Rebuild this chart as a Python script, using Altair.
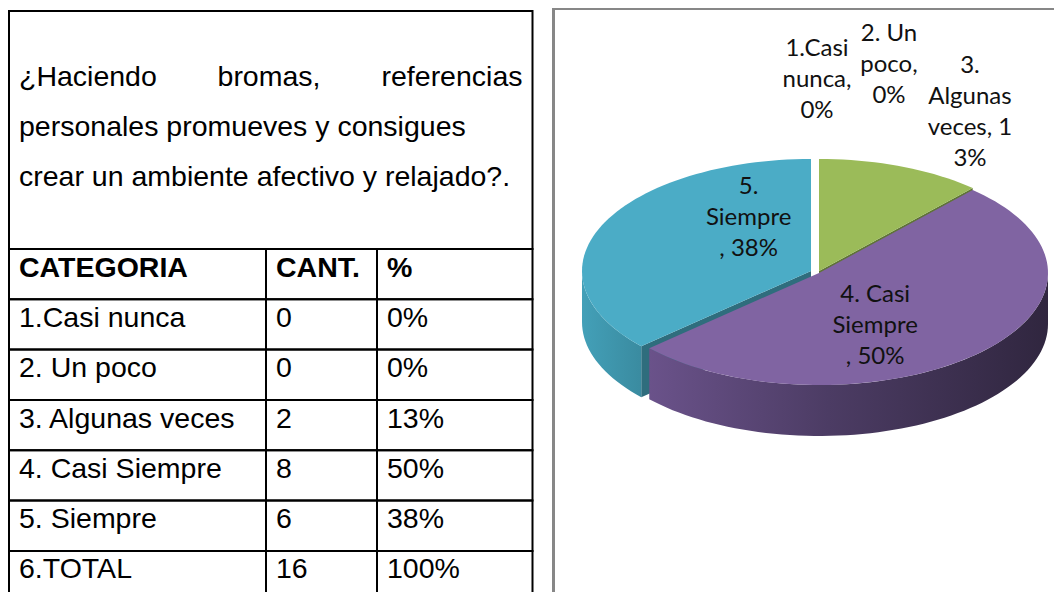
import altair as alt
import numpy as np
import pandas as pd

# ---------------- data ----------------
QUESTION_LINE1 = ["¿Haciendo", "bromas,", "referencias"]
QUESTION_REST = ["personales promueves y consigues", "crear un ambiente afectivo y relajado?."]
HEADERS = ["CATEGORIA", "CANT.", "%"]
CATEGORIES = ["1.Casi nunca", "2. Un poco", "3. Algunas veces", "4. Casi  Siempre", "5. Siempre", "6.TOTAL"]
CANT = ["0", "0", "2", "8", "6", "16"]
PCT = ["0%", "0%", "13%", "50%", "38%", "100%"]

PIE_CATEGORIES = ["1.Casi nunca", "2. Un poco", "3. Algunas veces", "4. Casi Siempre", "5. Siempre"]
PIE_COUNTS = [0, 0, 2, 8, 6]
PIE_LABELS = ["1.Casi\nnunca,\n0%", "2. Un\npoco,\n0%", "3.\nAlgunas\nveces, 1\n3%",
              "4. Casi\nSiempre\n, 50%", "5.\nSiempre\n, 38%"]

# ---------------- styles / layout ----------------
W, H = 1046, 584
FONT_T = "Liberation Sans"
T_SIZE = 28.5
FONT_P = "Lato"
LABEL_SIZE, LABEL_LH = 24, 31
TOP_COLORS = {"3. Algunas veces": "#9BBB59", "4. Casi Siempre": "#8064A2", "5. Siempre": "#4BACC6"}
CUT_COLORS = {"3. Algunas veces": "#5f7436", "5. Siempre": "#2f6d7d"}
SIDE_STOPS = {
    "4. Casi Siempre": [("#6a528a", 0), ("#4c3c64", 0.45), ("#30263f", 1)],
    "5. Siempre": [("#43a0b8", 0), ("#3a8ba0", 1)],
    "3. Algunas veces": [("#7d9a45", 0), ("#62783a", 1)],
}
EXPLODE_PX = {"3. Algunas veces": (2, -1), "4. Casi Siempre": (2, 1), "5. Siempre": (-6, -1)}
PERSPECTIVE = 0.07   # widens the front of the tilted pie a little
LABEL_RADIUS = {"1.Casi nunca": 1.714, "2. Un poco": 1.848, "3. Algunas veces": 1.54,
                "4. Casi Siempre": 0.6, "5. Siempre": 0.55}
LABEL_NUDGE_PX = {"1.Casi nunca": (0, 0), "2. Un poco": (72, 0), "3. Algunas veces": (18, 0),
                  "4. Casi Siempre": (-39, 6), "5. Siempre": (48, -30)}
CX, CY, RX, RY, DEPTH = 809, 264, 229, 112, 51

# table scales (piecewise: column / row edge index -> pixel)
tx = alt.Scale(domain=[0, 1, 2, 3], range=[1, 258, 369, 524.5], nice=False, zero=False)
ty = alt.Scale(domain=list(range(9)),
               range=[3, 241, 291.3, 341.6, 392, 442.3, 492.6, 542.9, 593.2], nice=False, zero=False)
# pie scales (unit ellipse -> pixel)
xs = alt.Scale(domain=[-1, 1], range=[CX - RX, CX + RX], nice=False, zero=False)
ys = alt.Scale(domain=[-1, 1], range=[CY + RY, CY - RY], nice=False, zero=False)

# ---------------- table ----------------
cells = [{"c0": 0, "c1": 3, "r0": 0, "r1": 1}]
for r in range(1, 8):
    for c in range(3):
        cells.append({"c0": c, "c1": c + 1, "r0": r, "r1": r + 1})
cells_df = pd.DataFrame(cells)

grid = alt.Chart(cells_df).mark_rect(fill="white", fillOpacity=0, stroke="black", strokeWidth=2).encode(
    x=alt.X("c0:Q", scale=tx, axis=None), x2="c1:Q",
    y=alt.Y("r0:Q", scale=ty, axis=None), y2="r1:Q")

rows = []
for c, h in enumerate(HEADERS):
    rows.append({"r": 1, "c": c, "text": h, "bold": True})
for i, (cat, n, p) in enumerate(zip(CATEGORIES, CANT, PCT)):
    for c, t in enumerate([cat, n, p]):
        rows.append({"r": i + 2, "c": c, "text": t, "bold": False})
rows_df = pd.DataFrame(rows)

def cell_text(bold):
    return alt.Chart(rows_df).transform_filter(
        alt.datum.bold if bold else ~alt.datum.bold
    ).mark_text(align="left", baseline="alphabetic", dx=10, dy=27.5, fontSize=T_SIZE, font=FONT_T,
                fontWeight="bold" if bold else "normal", color="black").encode(
        x=alt.X("c:Q", scale=tx, axis=None), y=alt.Y("r:Q", scale=ty, axis=None), text="text:N")

q1 = pd.DataFrame({"text": QUESTION_LINE1, "c": [0, 1, 3], "r": [0, 0, 0]})
q_layers = []
for word, align, dx in zip(QUESTION_LINE1, ["left", "center", "right"], [10, 3, -10]):
    q_layers.append(alt.Chart(q1).transform_filter(alt.datum.text == word).mark_text(
        align=align, baseline="alphabetic", dx=dx, dy=75, fontSize=T_SIZE, font=FONT_T, color="black").encode(
        x=alt.X("c:Q", scale=tx, axis=None), y=alt.Y("r:Q", scale=ty, axis=None), text="text:N"))
qr = pd.DataFrame({"text": QUESTION_REST, "c": [0, 0], "r": [0, 0]})
for k, line in enumerate(QUESTION_REST):
    q_layers.append(alt.Chart(qr).transform_filter(alt.datum.text == line).mark_text(
        align="left", baseline="alphabetic", dx=10, dy=125 + 50 * k, fontSize=T_SIZE, font=FONT_T,
        color="black").encode(
        x=alt.X("c:Q", scale=tx, axis=None), y=alt.Y("r:Q", scale=ty, axis=None), text="text:N"))

# chart frame (decoration)
frame_v = alt.Chart(cells_df.head(1)).mark_rule(color="#878787", strokeWidth=3).encode(
    x=alt.value(545.5), y=alt.value(0), y2=alt.value(H))
frame_h = alt.Chart(cells_df.head(1)).mark_rule(color="#878787", strokeWidth=3).encode(
    x=alt.value(544), x2=alt.value(W), y=alt.value(0.5))

# ---------------- pie geometry (from the counts) ----------------
total = sum(PIE_COUNTS)
D = DEPTH / RY
warp = lambda a: a - PERSPECTIVE * np.sin(a)
tops, sides, cuts, labels = [], [], [], []
start = 0
for cat, n, lab in zip(PIE_CATEGORIES, PIE_COUNTS, PIE_LABELS):
    a0 = 2 * np.pi * start / total
    a1 = 2 * np.pi * (start + n) / total
    start += n
    mid = (a0 + a1) / 2
    k = LABEL_RADIUS[cat]
    nx, ny = LABEL_NUDGE_PX[cat]
    nlines = lab.count("\n") + 1
    ny -= (nlines - 1) * LABEL_LH / 2  # centre the text block on its anchor
    labels.append({"cat": cat, "label": lab,
                   "u": k * np.sin(mid) + nx / RX, "v": k * np.cos(mid) - ny / RY})
    if n == 0:
        continue
    a0, a1 = warp(a0), warp(a1)
    ex, ey = EXPLODE_PX[cat]
    du, dv = ex / RX, -ey / RY
    steps = max(int(np.degrees(a1 - a0) / 2), 3)
    tops.append({"cat": cat, "i": 0, "u": du, "v": dv})
    for j, a in enumerate(np.linspace(a0, a1, steps + 1)):
        tops.append({"cat": cat, "i": j + 1, "u": du + np.sin(a), "v": dv + np.cos(a)})
    lo, hi = max(a0, np.pi / 2), min(a1, 3 * np.pi / 2)
    if hi > lo:
        for a in np.linspace(lo, hi, max(int(np.degrees(hi - lo) / 2), 3) + 1):
            sides.append({"cat": cat, "u": du + np.sin(a), "v": dv + np.cos(a), "v2": dv + np.cos(a) - D})
    for a, normal in [(a0, a0 - np.pi / 2), (a1, a1 + np.pi / 2)]:
        if np.cos(normal) < -0.05:
            for t in (0.0, 1.0):
                cuts.append({"cat": cat, "u": du + t * np.sin(a), "v": dv + t * np.cos(a),
                             "v2": dv + t * np.cos(a) - D})

tops_df, sides_df, cuts_df, labels_df = map(pd.DataFrame, (tops, sides, cuts, labels))

pie_layers = []
for cat, color in CUT_COLORS.items():
    pie_layers.append(alt.Chart(cuts_df).transform_filter(alt.datum.cat == cat).mark_area(
        color=color, line=False).encode(
        x=alt.X("u:Q", scale=xs, axis=None), y=alt.Y("v:Q", scale=ys, axis=None), y2="v2:Q"))
for cat in sides_df["cat"].unique():
    stops = [alt.GradientStop(color=c, offset=o) for c, o in SIDE_STOPS[cat]]
    pie_layers.append(alt.Chart(sides_df).transform_filter(alt.datum.cat == cat).mark_area(
        color=alt.Gradient(gradient="linear", stops=stops, x1=0, x2=1, y1=0, y2=0)).encode(
        x=alt.X("u:Q", scale=xs, axis=None), y=alt.Y("v:Q", scale=ys, axis=None), y2="v2:Q"))
pie_layers.append(alt.Chart(tops_df).mark_line(filled=True, interpolate="linear-closed", strokeWidth=0).encode(
    x=alt.X("u:Q", scale=xs, axis=None), y=alt.Y("v:Q", scale=ys, axis=None),
    color=alt.Color("cat:N", scale=alt.Scale(domain=list(TOP_COLORS), range=list(TOP_COLORS.values())),
                    legend=None),
    order="i:Q"))
pie_layers.append(alt.Chart(labels_df).mark_text(
    font=FONT_P, fontSize=LABEL_SIZE, lineBreak="\n", lineHeight=LABEL_LH, align="center", baseline="middle",
    color="#111111").encode(
    x=alt.X("u:Q", scale=xs, axis=None), y=alt.Y("v:Q", scale=ys, axis=None), text="label:N"))

chart = alt.layer(
    grid, cell_text(True), cell_text(False), *q_layers, frame_v, frame_h, *pie_layers
).resolve_scale(x="independent", y="independent", color="independent").properties(
    width=W, height=H, padding=0, autosize=alt.AutoSizeParams(type="none"), background="white"
).configure_view(stroke=None)

chart.save("out.html", embed_options={"renderer": "svg", "actions": False})
